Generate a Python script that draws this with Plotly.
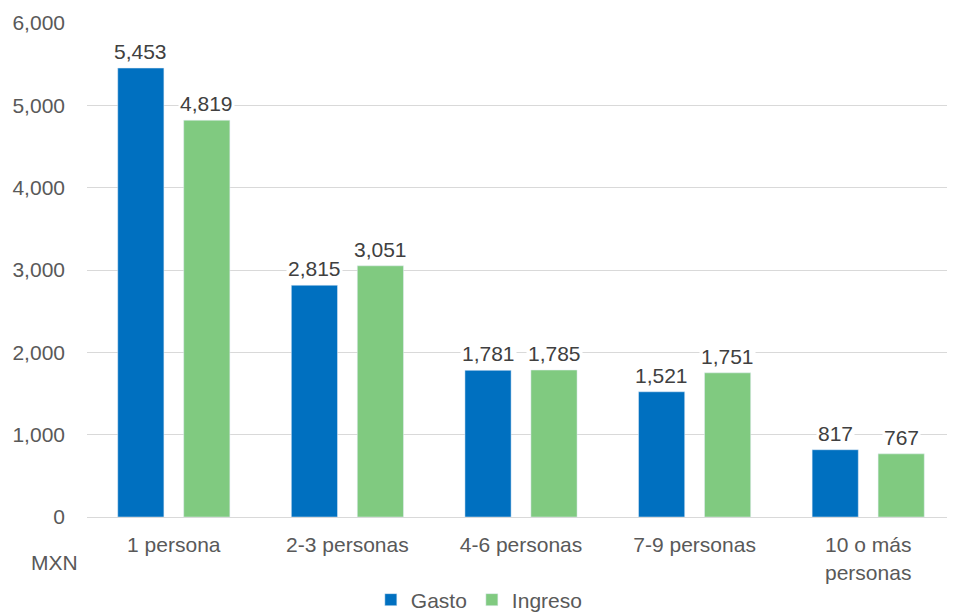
import plotly.graph_objects as go

categorias = ["1 persona", "2-3 personas", "4-6 personas", "7-9 personas", "10 o más<br>personas"]
gasto = [5453, 2815, 1781, 1521, 817]
ingreso = [4819, 3051, 1785, 1751, 767]

AZUL = "#0070C0"
VERDE = "#80CA80"
FONT = "Liberation Sans, Arial, sans-serif"

fig = go.Figure()
fig.add_trace(go.Bar(x=categorias, y=gasto, name="Gasto", marker=dict(color=AZUL)))
fig.add_trace(go.Bar(x=categorias, y=ingreso, name="Ingreso", marker=dict(color=VERDE)))

# etiquetas de valor con fondo blanco (tapan la linea de la rejilla)
for serie, shift in ((gasto, -33), (ingreso, 33)):
    for c, v in zip(categorias, serie):
        fig.add_annotation(x=c, y=v, xref="x", yref="y", text=f"{v:,}", showarrow=False,
                           xshift=shift, yanchor="bottom", yshift=3, bgcolor="white",
                           borderpad=1, font=dict(size=21, color="#404040", family=FONT))

fig.add_annotation(text="MXN", xref="paper", yref="paper", x=-0.008, y=-0.092,
                   xanchor="right", yanchor="middle", showarrow=False,
                   font=dict(size=21, color="#595959", family=FONT))

fig.update_layout(
    width=947, height=608,
    margin=dict(l=79, r=0, t=15, b=99, autoexpand=False),
    paper_bgcolor="white", plot_bgcolor="white",
    barmode="group", bargap=0.24, bargroupgap=0.3,
    font=dict(family=FONT, size=21, color="#595959"),
    legend=dict(orientation="h", xref="paper", x=0.452, xanchor="center",
                yref="paper", y=-0.168, yanchor="middle",
                font=dict(size=21, color="#595959"), itemwidth=30,
                traceorder="normal"),
    xaxis=dict(showgrid=False, showline=True, linecolor="#D9D9D9", linewidth=1,
               ticks="", ticklabelstandoff=9, tickfont=dict(size=21, color="#595959")),
    yaxis=dict(range=[0, 6000], dtick=1000, tickformat=",d", showgrid=True,
               gridcolor="#D9D9D9", zeroline=False, showline=False, ticks="",
               ticklabelstandoff=21, tickfont=dict(size=21, color="#595959")),
)

fig.write_html("out.html")
